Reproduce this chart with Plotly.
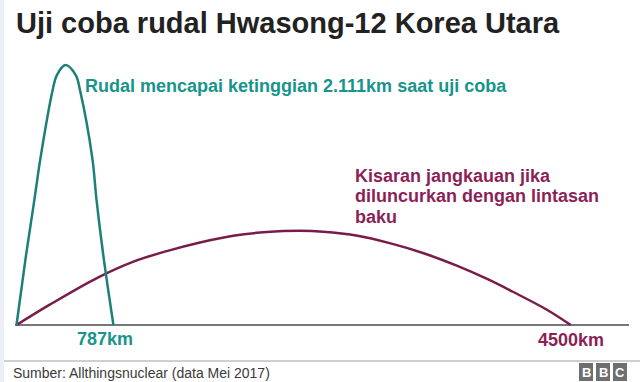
import plotly.graph_objects as go

# Trajectory of the test launch (km downrange, km altitude)
test_x = [0, 76, 146, 194, 292, 328, 397, 481, 517, 616, 649, 706, 787]
test_y = [0, 557, 1022, 1351, 1900, 2029, 2111, 2029, 1900, 1351, 1022, 557, 0]

# Trajectory on a standard (minimum-energy) path
std_x = [0, 270, 660, 950, 1220, 1490, 1760, 2030, 2300, 2490, 2770, 3030,
         3300, 3580, 3830, 4030, 4310, 4500]
std_y = [0, 165, 385, 515, 600, 670, 725, 755, 765, 758, 725, 665,
         585, 480, 370, 270, 122, 0]

title = "Uji coba rudal Hwasong-12 Korea Utara"
test_label = "Rudal mencapai ketinggian 2.111km saat uji coba"
std_label_lines = ["Kisaran jangkauan jika", "diluncurkan dengan lintasan", "baku"]
test_range_label = "787km"
std_range_label = "4500km"
source = "Sumber: Allthingsnuclear (data Mei 2017)"

TEAL_LINE = "#1d8078"
TEAL_TEXT = "#17948b"
PLUM_LINE = "#7a1c4a"
PLUM_TEXT = "#8c1f58"

W, H = 640, 382
# one km on either axis spans the same number of pixels
KM_PX = 0.12316
X0_PX, BASE_PX = 16.5, 325.0

def px(x):
    return x / W

def py(y):
    return 1 - y / H

fig = go.Figure()
fig.add_trace(go.Scatter(x=std_x, y=std_y, mode="lines", line_shape="spline",
                         line=dict(color=PLUM_LINE, width=2.5), hoverinfo="skip"))
fig.add_trace(go.Scatter(x=test_x, y=test_y, mode="lines", line_shape="spline",
                         line=dict(color=TEAL_LINE, width=2.5), hoverinfo="skip"))

FONT = "Liberation Sans, Arial, sans-serif"
ann = []
ann.append(dict(text=f"<b>{title}</b>", x=px(14), y=py(23), xanchor="left", yanchor="middle",
                font=dict(size=29, color="#222222", family=FONT)))
ann.append(dict(text=f"<b>{test_label}</b>", x=px(83), y=py(86), xanchor="left", yanchor="middle",
                font=dict(size=18, color=TEAL_TEXT, family=FONT)))
# range caption, one line at a time for tight leading
for i, line in enumerate(std_label_lines):
    ann.append(dict(text=f"<b>{line}</b>", x=px(353), y=py(175.5 + 20.5 * i),
                    xanchor="left", yanchor="middle",
                    font=dict(size=18, color=PLUM_TEXT, family=FONT)))
ann.append(dict(text=f"<b>{test_range_label}</b>", x=px(105), y=py(339),
                xanchor="center", yanchor="middle",
                font=dict(size=18, color=TEAL_TEXT, family=FONT)))
ann.append(dict(text=f"<b>{std_range_label}</b>", x=std_x[-1], xref="x", y=py(340),
                xanchor="center", yanchor="middle",
                font=dict(size=18, color=PLUM_TEXT, family=FONT)))
ann.append(dict(text=source, x=px(11), y=py(373), xanchor="left", yanchor="middle",
                font=dict(size=14, color="#3a3a3a", family=FONT)))
for i, ch in enumerate("BBC"):
    ann.append(dict(text=f"<b>{ch}</b>", x=px(586 + 17 * i), y=py(372), xanchor="center",
                    yanchor="middle", font=dict(size=13, color="white", family=FONT)))
for a in ann:
    a.setdefault("xref", "paper")
    a.setdefault("yref", "paper")
    a["showarrow"] = False

shapes = [
    # pale strip along the left edge
    dict(type="rect", xref="paper", yref="paper", x0=0, x1=px(4), y0=0, y1=1,
         fillcolor="#eceef8", line_width=0, layer="below"),
    # ground line
    dict(type="line", xref="paper", yref="y", x0=px(15), x1=px(629), y0=0, y1=0,
         line=dict(color="#4a4a4a", width=1.5), layer="below"),
    # footer rule
    dict(type="line", xref="paper", yref="paper", x0=px(4), x1=1, y0=py(361), y1=py(361),
         line=dict(color="#a0a0a0", width=1.2)),
]
for i in range(3):
    shapes.append(dict(type="rect", xref="paper", yref="paper",
                       x0=px(579 + 17 * i), x1=px(593 + 17 * i), y0=py(381), y1=py(363),
                       fillcolor="#6f6f6f", line_width=0))

x_lo = (0 - X0_PX) / KM_PX
x_hi = (W - X0_PX) / KM_PX
y_lo = (BASE_PX - H) / KM_PX
y_hi = BASE_PX / KM_PX

fig.update_layout(
    width=W, height=H, margin=dict(l=0, r=0, t=0, b=0),
    paper_bgcolor="white", plot_bgcolor="white", showlegend=False,
    xaxis=dict(range=[x_lo, x_hi], visible=False, fixedrange=True),
    yaxis=dict(range=[y_lo, y_hi], visible=False, fixedrange=True),
    annotations=ann, shapes=shapes,
)
fig.write_html("out.html", config={"displayModeBar": False})
